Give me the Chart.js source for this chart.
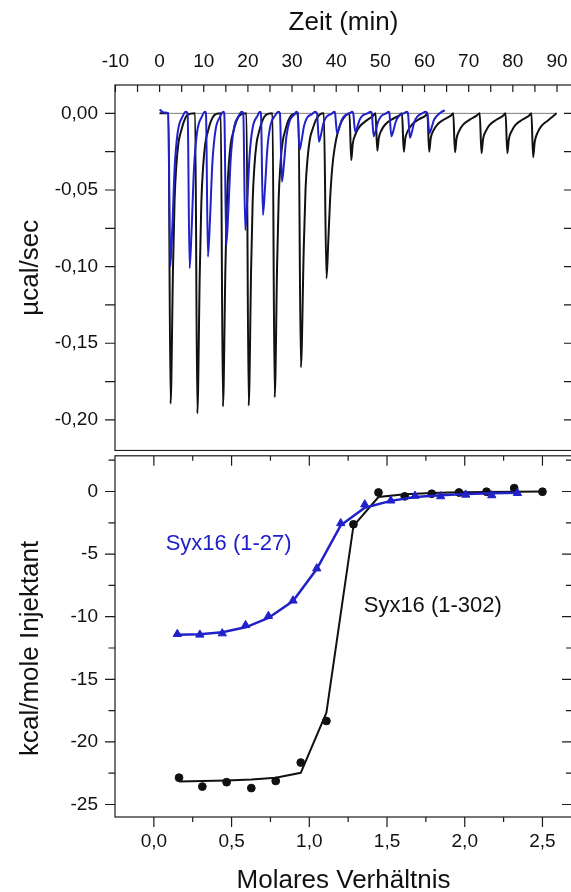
<!DOCTYPE html>
<html><head><meta charset="utf-8">
<script src="https://cdn.jsdelivr.net/npm/chart.js@4/dist/chart.umd.min.js"></script>
<style>
html,body{margin:0;padding:0;background:#fff;overflow:hidden;width:571px;height:892px;}
#top{position:absolute;left:0;top:0;width:580px;height:451px;}
#bot{position:absolute;left:0;top:450px;width:580px;height:460px;}
canvas{display:block;}
</style></head><body>
<div id="top"><canvas id="c1"></canvas></div>
<div id="bot"><canvas id="c2"></canvas></div>
<script>
// ---------- data ----------
// Top panel: thermogram (time in min, heat rate in µcal/sec)
const blackTrace = [
[0,0],[1.99,0],[2.49,-0.1895],[3.04,-0.1004],[3.39,-0.0569],[3.79,-0.0341],[4.29,-0.019],[4.89,-0.0114],[5.59,-0.0047],[6.39,-0.0009],
[8.05,0],[8.55,-0.1958],[9.10,-0.1038],[9.45,-0.0587],[9.85,-0.0352],[10.35,-0.0196],[10.95,-0.0117],[11.65,-0.0049],[12.45,-0.001],
[13.85,0],[14.35,-0.1913],[14.9,-0.1014],[15.25,-0.0574],[15.65,-0.0344],[16.15,-0.0191],[16.75,-0.0115],[17.45,-0.0048],[18.25,-0.001],
[19.68,0],[20.18,-0.1908],[20.73,-0.1011],[21.08,-0.0572],[21.48,-0.0343],[21.98,-0.0191],[22.58,-0.0114],[23.28,-0.0048],[24.08,-0.001],
[25.57,0],[26.07,-0.1853],[26.62,-0.0982],[26.97,-0.0556],[27.37,-0.0334],[27.87,-0.0185],[28.47,-0.0111],[29.17,-0.0046],[29.97,-0.0009],
[31.45,0],[32.0,-0.1657],[32.65,-0.0878],[33.05,-0.0497],[33.5,-0.0298],[34.05,-0.0166],[34.7,-0.0099],[35.45,-0.0041],[36.3,-0.0008],
[37.2,0],[37.8,-0.1076],[38.2,-0.0839],[38.6,-0.057],[39.1,-0.0355],[39.7,-0.0215],[40.4,-0.0118],[41.2,-0.0054],[42.1,-0.0016],
[43.0,0],[43.4,-0.0304],[43.75,-0.0198],[44.35,-0.0137],[45.25,-0.0088],[46.75,-0.0049],[48.3,-0.0018],
[48.9,0],[49.3,-0.0244],[49.65,-0.0159],[50.25,-0.011],[51.15,-0.0071],[52.65,-0.0039],[54.2,-0.0015],
[54.9,0],[55.3,-0.025],[55.65,-0.0163],[56.25,-0.0113],[57.15,-0.0073],[58.65,-0.004],[60.2,-0.0015],
[60.65,0],[61.05,-0.025],[61.4,-0.0163],[62.0,-0.0113],[62.9,-0.0073],[64.4,-0.004],[65.95,-0.0015],
[66.5,0],[66.9,-0.0254],[67.25,-0.0165],[67.85,-0.0114],[68.75,-0.0074],[70.25,-0.0041],[71.8,-0.0015],
[72.5,0],[72.9,-0.026],[73.25,-0.0169],[73.85,-0.0117],[74.75,-0.0075],[76.25,-0.0042],[77.8,-0.0016],
[78.35,0],[78.75,-0.026],[79.1,-0.0169],[79.7,-0.0117],[80.6,-0.0075],[82.1,-0.0042],[83.65,-0.0016],
[84.2,0],[84.6,-0.0287],[84.95,-0.0187],[85.55,-0.0129],[86.45,-0.0083],[87.95,-0.0046],[89.9,0]
];
const blueTrace = [
[0,0.0025],[0.6,0.001],[1.2,0.0005],[1.97,0],[2.42,-0.1],[2.87,-0.075],[3.42,-0.035],[4.12,-0.012],[5.22,-0.002],[5.92,0.001],
[6.35,0],[6.8,-0.101],[7.25,-0.0758],[7.8,-0.0354],[8.5,-0.0121],[9.6,-0.002],[10.3,0.001],
[10.5,0],[10.95,-0.0935],[11.4,-0.0701],[11.95,-0.0327],[12.65,-0.0112],[13.75,-0.0019],[14.45,0.001],
[14.65,0],[15.1,-0.0859],[15.55,-0.0644],[16.1,-0.0301],[16.8,-0.0103],[17.9,-0.0017],[18.6,0.001],
[18.95,0],[19.4,-0.0761],[19.85,-0.0571],[20.4,-0.0266],[21.1,-0.0091],[22.2,-0.0015],[22.7,0.001],
[22.95,0],[23.4,-0.0663],[23.85,-0.0497],[24.4,-0.0232],[25.1,-0.008],[26.2,-0.0013],[26.9,0.001],
[27.25,0],[27.7,-0.0446],[28.15,-0.0335],[28.7,-0.0156],[29.4,-0.0054],[30.5,-0.0009],[31.0,0.001],
[31.25,0],[31.7,-0.0239],[32.15,-0.0179],[32.7,-0.0084],[33.4,-0.0029],[34.5,-0.0005],[35.2,0.001],
[35.65,0],[36.1,-0.0185],[36.55,-0.0139],[37.1,-0.0065],[37.8,-0.0022],[38.9,-0.0004],[39.6,0.001],
[39.75,0],[40.2,-0.013],[40.65,-0.0098],[41.2,-0.0046],[41.9,-0.0016],[43.0,0],[43.6,0.001],
[43.85,0],[44.3,-0.012],[44.75,-0.009],[45.3,-0.0042],[46.0,-0.0014],[47.1,0],[47.8,0.001],
[48.05,0],[48.5,-0.015],[48.95,-0.0113],[49.5,-0.0053],[50.2,-0.0018],[51.3,0],[51.9,0.001],
[52.05,0],[52.5,-0.015],[52.95,-0.0113],[53.5,-0.0053],[54.2,-0.0018],[55.3,0],[56.0,0.001],
[56.25,0],[56.7,-0.016],[57.15,-0.012],[57.7,-0.0056],[58.4,-0.0019],[59.5,0],[60.2,0.001],
[60.65,0],[61.1,-0.013],[61.55,-0.0098],[62.1,-0.0046],[62.8,-0.0016],[63.9,0.001],[64.6,0.002]
];
const baselineTrace = [[0,0],[90,0]];

// Bottom panel: integrated heats
const ratioBlack = [0.162,0.312,0.468,0.627,0.784,0.945,1.11,1.284,1.445,1.614,1.788,1.963,2.14,2.318,2.5];
const heatBlack  = [-22.86,-23.57,-23.22,-23.69,-23.12,-21.65,-18.33,-2.62,-0.08,-0.39,-0.18,-0.08,-0.02,0.27,-0.02];
const fitBlack   = [-23.17,-23.12,-23.08,-23.0,-22.86,-22.47,-17.67,-2.75,-0.44,-0.22,-0.12,-0.07,-0.04,-0.02,-0.01];
const ratioBlue  = [0.151,0.296,0.44,0.59,0.737,0.895,1.048,1.202,1.357,1.524,1.68,1.845,2.006,2.174,2.339];
const heatBlue   = [-11.39,-11.44,-11.34,-10.68,-9.95,-8.72,-6.15,-2.54,-1.04,-0.73,-0.35,-0.39,-0.26,-0.31,-0.13];
const fitBlue    = [-11.45,-11.4,-11.25,-10.85,-10.1,-8.75,-6.2,-2.7,-1.3,-0.75,-0.45,-0.3,-0.2,-0.15,-0.1];

// Tick labels
const timeTicks  = [-10,0,10,20,30,40,50,60,70,80,90];
const powerTicks = [0,-0.05,-0.10,-0.15,-0.20];
const ratioTicks = [0,0.5,1.0,1.5,2.0,2.5];
const heatTicks  = [0,-5,-10,-15,-20,-25];
const seriesNames = ['Syx16 (1-27)','Syx16 (1-302)'];

// ---------- helpers ----------
const BLUE = '#2121c9', BLACK = '#111111';
const FONT = "'Liberation Sans', Arial, Helvetica, sans-serif";
Chart.defaults.font.family = FONT;
Chart.defaults.color = '#111';
const pts = arr => arr.map(p => ({x:p[0], y:p[1]}));
const zip = (xs, ys) => xs.map((x,i) => ({x, y:ys[i]}));
function minorsOf(major, lo, hi) {
  const s = [...major].sort((a,b)=>a-b), step = s[1]-s[0], out = [];
  for (let v = s[0]-step/2; v <= s[s.length-1]+step/2+1e-9; v += step)
    if (v > lo && v < hi) out.push(+v.toFixed(6));
  return out;
}
const setTicks = arr => s => { s.ticks = arr.map(v => ({value:v})); };
const fixSize = (w, h) => s => {
  if (w !== null) s.width = w;
  if (h !== null) s.height = h;
  s.paddingTop = 0; s.paddingBottom = 0; s.paddingLeft = 0; s.paddingRight = 0;
};

const frameTicks = {
  id:'frameTicks',
  afterDraw(chart, args, opts) {
    const {ctx, chartArea:a} = chart;
    ctx.save();
    ctx.strokeStyle = '#1a1a1a';
    ctx.lineWidth = 1.2;
    ctx.strokeRect(a.left, a.top, a.right-a.left, a.bottom-a.top);
    ctx.beginPath();
    (opts.marks||[]).forEach(m => {
      const s = chart.scales[m.scale];
      const sign = m.dir === 'in' ? 1 : -1;
      m.values.forEach(v => {
        const p = s.getPixelForValue(v);
        if (m.side === 'top')    { ctx.moveTo(p, a.top);    ctx.lineTo(p, a.top + sign*m.len); }
        if (m.side === 'bottom') { ctx.moveTo(p, a.bottom); ctx.lineTo(p, a.bottom - sign*m.len); }
        if (m.side === 'left')   { ctx.moveTo(a.left, p);   ctx.lineTo(a.left + sign*m.len, p); }
        if (m.side === 'right')  { ctx.moveTo(a.right, p);  ctx.lineTo(a.right - sign*m.len, p); }
      });
    });
    ctx.stroke();
    ctx.restore();
  }
};
const textLabels = {
  id:'textLabels',
  afterDatasetsDraw(chart, args, opts) {
    const {ctx, chartArea:a} = chart;
    ctx.save();
    (opts.items||[]).forEach(it => {
      ctx.font = '22px ' + FONT;
      ctx.fillStyle = it.color;
      ctx.textAlign = 'left';
      ctx.textBaseline = 'middle';
      ctx.fillText(it.text, chart.scales.x.getPixelForValue(it.x), chart.scales.y.getPixelForValue(it.y));
    });
    if (opts.yTitle) {
      ctx.save();
      ctx.font = '26px ' + FONT;
      ctx.fillStyle = '#111';
      ctx.textAlign = 'center';
      ctx.textBaseline = 'middle';
      ctx.translate(opts.yTitle.x, (a.top + a.bottom) / 2 + opts.yTitle.shift);
      ctx.rotate(-Math.PI / 2);
      ctx.fillText(opts.yTitle.text, 0, 0);
      ctx.restore();
    }
    ctx.restore();
  }
};

const axisCommon = {
  grid:{display:false, drawTicks:false},
  border:{display:false}
};

// ---------- top chart ----------
const tMin = -10.1, tMax = 93.4, pMin = -0.22, pMax = 0.0185;
new Chart(document.getElementById('c1'), {
  type:'line',
  data:{datasets:[
    {data:pts(blueTrace), borderColor:BLUE, borderWidth:2, cubicInterpolationMode:'monotone', pointRadius:0},
    {data:pts(blackTrace), borderColor:BLACK, borderWidth:2, cubicInterpolationMode:'monotone', pointRadius:0},
    {data:pts(baselineTrace), borderColor:'#7a7a7a', borderWidth:1, pointRadius:0}
  ]},
  options:{
    responsive:true, maintainAspectRatio:false, animation:false,
    layout:{padding:{left:0,right:8,top:0,bottom:0.5}},
    plugins:{legend:{display:false}, tooltip:{enabled:false},
      frameTicks:{marks:[
        {scale:'x', side:'top', dir:'in', len:7, values:timeTicks},
        {scale:'x', side:'top', dir:'in', len:7, values:minorsOf(timeTicks,tMin,tMax)},
        {scale:'y', side:'left', dir:'out', len:10, values:powerTicks},
        {scale:'y', side:'left', dir:'out', len:10, values:minorsOf(powerTicks,pMin,pMax)},
        {scale:'y', side:'right', dir:'in', len:8, values:powerTicks},
        {scale:'y', side:'right', dir:'in', len:8, values:minorsOf(powerTicks,pMin,pMax)}
      ]}},
    scales:{
      x:{...axisCommon, type:'linear', position:'top', min:tMin, max:tMax,
        afterBuildTicks:setTicks(timeTicks), afterFit:fixSize(null,85),
        ticks:{font:{size:19}, padding:12, autoSkip:false, maxRotation:0, color:'#111', callback:v=>String(v)},
        title:{display:true, text:'Zeit (min)', font:{size:26}, color:'#111', padding:{top:7,bottom:0}}},
      y:{...axisCommon, type:'linear', position:'left', min:pMin, max:pMax,
        afterBuildTicks:setTicks(powerTicks), afterFit:fixSize(115,null),
        ticks:{font:{size:19}, padding:17, autoSkip:false, color:'#111', callback:v=>v.toFixed(2).replace('.',',')},
        title:{display:true, text:'µcal/sec', font:{size:26}, color:'#111', padding:{top:15,bottom:0}}}
    }
  },
  plugins:[frameTicks]
});

// ---------- bottom chart ----------
const rMin = -0.25, rMax = 2.69, hMin = -26, hMax = 2.85;
new Chart(document.getElementById('c2'), {
  type:'line',
  data:{datasets:[
    {data:zip(ratioBlue, heatBlue), showLine:false, pointStyle:'triangle', pointRadius:4.8, pointBackgroundColor:BLUE, pointBorderColor:BLUE, borderColor:BLUE},
    {data:zip(ratioBlue, fitBlue), borderColor:BLUE, borderWidth:2.5, pointRadius:0, tension:0},
    {data:zip(ratioBlack, heatBlack), showLine:false, pointStyle:'circle', pointRadius:3.9, pointBackgroundColor:BLACK, pointBorderColor:BLACK, borderColor:BLACK},
    {data:zip(ratioBlack, fitBlack), borderColor:BLACK, borderWidth:2, pointRadius:0, tension:0}
  ]},
  options:{
    responsive:true, maintainAspectRatio:false, animation:false,
    layout:{padding:{left:0,right:8,top:0.5,bottom:0}},
    plugins:{legend:{display:false}, tooltip:{enabled:false},
      textLabels:{
        items:[
          {text:seriesNames[0], x:0.076, y:-4.2, color:BLUE},
          {text:seriesNames[1], x:1.35, y:-9.15, color:BLACK}
        ],
        yTitle:{text:'kcal/mole Injektant', x:30.6, shift:12}
      },
      frameTicks:{marks:[
        {scale:'x', side:'bottom', dir:'out', len:10, values:ratioTicks},
        {scale:'x', side:'bottom', dir:'out', len:5, values:minorsOf(ratioTicks,rMin,rMax)},
        {scale:'x', side:'top', dir:'in', len:10, values:ratioTicks},
        {scale:'x', side:'top', dir:'in', len:5, values:minorsOf(ratioTicks,rMin,rMax)},
        {scale:'y', side:'left', dir:'out', len:10, values:heatTicks},
        {scale:'y', side:'left', dir:'out', len:6.5, values:minorsOf(heatTicks,hMin,hMax)},
        {scale:'y', side:'right', dir:'in', len:10, values:heatTicks},
        {scale:'y', side:'right', dir:'in', len:6, values:minorsOf(heatTicks,hMin,hMax)}
      ]}},
    scales:{
      x:{...axisCommon, type:'linear', position:'bottom', min:rMin, max:rMax,
        afterBuildTicks:setTicks(ratioTicks), afterFit:fixSize(null,93),
        ticks:{font:{size:19}, padding:13, autoSkip:false, maxRotation:0, color:'#111', callback:v=>v.toFixed(1).replace('.',',')},
        title:{display:true, text:'Molares Verhältnis', font:{size:26}, color:'#111', padding:{top:0,bottom:14}}},
      y:{...axisCommon, type:'linear', position:'left', min:hMin, max:hMax,
        afterBuildTicks:setTicks(heatTicks), afterFit:fixSize(115,null),
        ticks:{font:{size:19}, padding:17, autoSkip:false, color:'#111', callback:v=>String(v)},
        title:{display:false}}
    }
  },
  plugins:[frameTicks, textLabels]
});
</script>
</body></html>
